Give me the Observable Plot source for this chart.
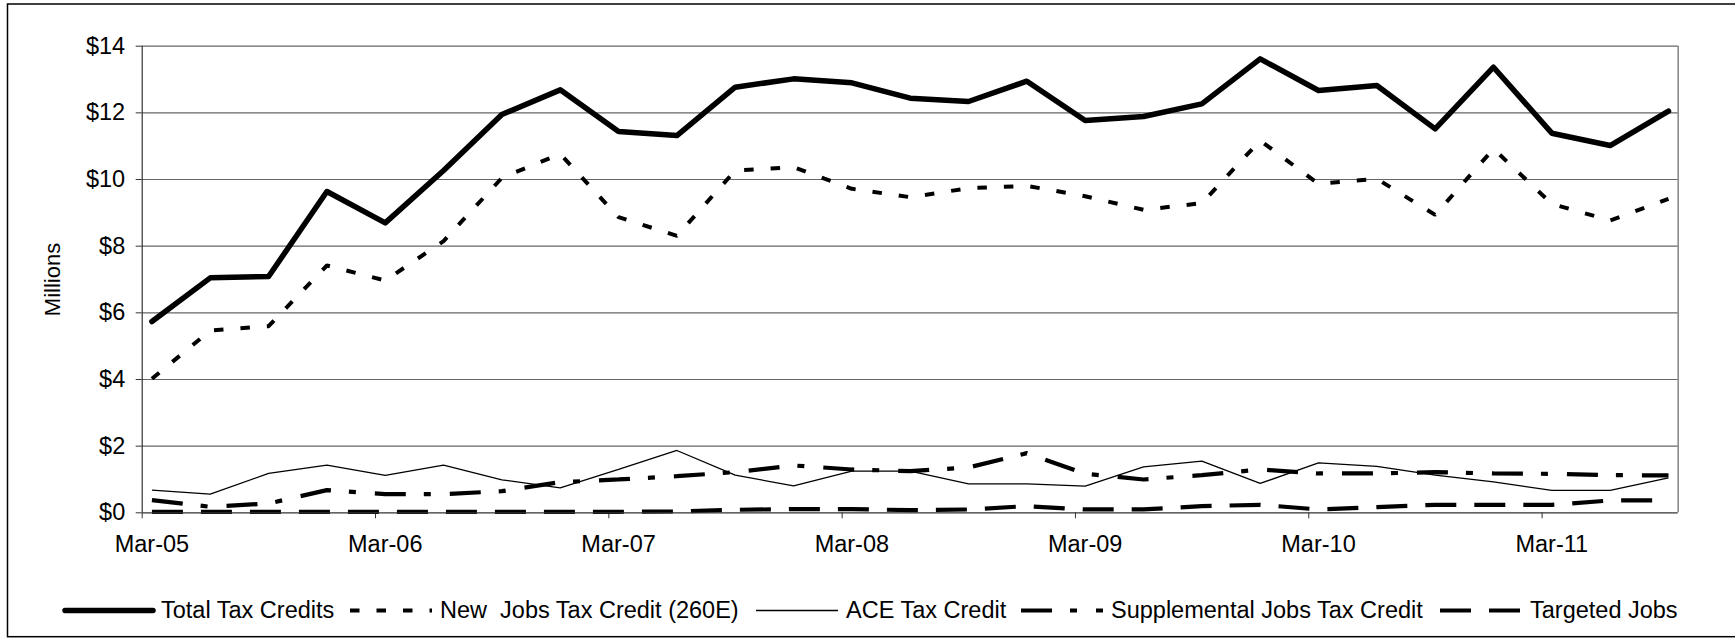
<!DOCTYPE html>
<html>
<head>
<meta charset="utf-8">
<script src="https://cdn.jsdelivr.net/npm/d3@7"></script>
<script src="https://cdn.jsdelivr.net/npm/@observablehq/plot@0.6"></script>
<style>
  html, body { margin: 0; padding: 0; background: #fff; }
  #wrap { position: relative; width: 1735px; height: 640px; overflow: hidden; font-family: "Liberation Sans", Arial, sans-serif; }
  #wrap svg { display: block; }
  #plot { position: absolute; left: 0; top: 0; }
  #legend { position: absolute; left: 0; top: 560px; }
  #frame { position: absolute; left: 0; top: 0; pointer-events: none; }
</style>
</head>
<body>
<div id="wrap">
  <div id="plot"></div>
  <div id="legend"></div>
  <div id="frame"></div>
</div>
<script>
// ---------------- data ----------------
const quarters = [
  "Mar-05","Jun-05","Sep-05","Dec-05",
  "Mar-06","Jun-06","Sep-06","Dec-06",
  "Mar-07","Jun-07","Sep-07","Dec-07",
  "Mar-08","Jun-08","Sep-08","Dec-08",
  "Mar-09","Jun-09","Sep-09","Dec-09",
  "Mar-10","Jun-10","Sep-10","Dec-10",
  "Mar-11","Jun-11","Sep-11"
];
const totalTaxCredits = [5.74, 7.05, 7.09, 9.64, 8.70, 10.27, 11.95, 12.69, 11.44, 11.32, 12.77, 13.02, 12.90, 12.44, 12.34, 12.95, 11.77, 11.89, 12.27, 13.62, 12.67, 12.82, 11.52, 13.37, 11.39, 11.02, 12.05];
const newJobsCredit = [4.02, 5.47, 5.60, 7.42, 6.97, 8.15, 10.05, 10.77, 8.87, 8.31, 10.27, 10.37, 9.72, 9.47, 9.74, 9.81, 9.50, 9.09, 9.29, 11.17, 9.87, 10.02, 8.94, 10.92, 9.27, 8.77, 9.42];
const aceCredit = [0.68, 0.56, 1.18, 1.43, 1.12, 1.43, 0.99, 0.75, 1.30, 1.87, 1.13, 0.81, 1.25, 1.25, 0.87, 0.87, 0.80, 1.38, 1.55, 0.88, 1.50, 1.39, 1.13, 0.93, 0.67, 0.67, 1.05];
const supplementalCredit = [0.38, 0.18, 0.28, 0.68, 0.56, 0.56, 0.65, 0.92, 1.00, 1.10, 1.22, 1.42, 1.30, 1.25, 1.36, 1.79, 1.17, 1.00, 1.13, 1.30, 1.18, 1.18, 1.22, 1.18, 1.17, 1.13, 1.12];
const targetedJobs = [0.03, 0.03, 0.03, 0.03, 0.03, 0.03, 0.03, 0.03, 0.03, 0.04, 0.09, 0.11, 0.11, 0.08, 0.10, 0.20, 0.10, 0.10, 0.20, 0.24, 0.10, 0.17, 0.24, 0.24, 0.24, 0.37, 0.37];

const seriesNames = ["Total Tax Credits", "New  Jobs Tax Credit (260E)", "ACE Tax Credit", "Supplemental Jobs Tax Credit", "Targeted Jobs"];
const yTicks = [0, 2, 4, 6, 8, 10, 12, 14];
const xTickLabels = ["Mar-05","Mar-06","Mar-07","Mar-08","Mar-09","Mar-10","Mar-11"];
const yAxisLabel = "Millions";

// ---------------- helpers ----------------
const monthNames = ["Jan","Feb","Mar","Apr","May","Jun","Jul","Aug","Sep","Oct","Nov","Dec"];
const base = (() => { const [m, y] = quarters[0].split("-"); return (2000 + +y) * 12 + monthNames.indexOf(m); })();
function monthPos(label) { const [m, y] = label.split("-"); return (2000 + +y) * 12 + monthNames.indexOf(m) - base; }
const xMax = monthPos(quarters[quarters.length - 1]) + 1;

const styles = [
  {values: totalTaxCredits, strokeWidth: 5.5, dash: null, cap: "round", sample: 88, legendX: 65},
  {values: newJobsCredit, strokeWidth: 4, dash: "9.5,17", cap: "butt", sample: 82, legendX: 350},
  {values: aceCredit, strokeWidth: 1.3, dash: null, cap: "butt", sample: 82, legendX: 756},
  {values: supplementalCredit, strokeWidth: 4.2, dash: "31,18,7,19", cap: "butt", sample: 82, legendX: 1021},
  {values: targetedJobs, strokeWidth: 4.2, dash: "31,18", cap: "butt", sample: 82, legendX: 1440}
];

const rows = [];
seriesNames.forEach((name, s) => {
  quarters.forEach((q, i) => rows.push({series: name, quarter: q, x: monthPos(q) + 0.5, value: styles[s].values[i]}));
});

const yearTickPos = xTickLabels.map(monthPos);
const yearLabelPos = xTickLabels.map(l => monthPos(l) + 0.5);
const labelAt = new Map(yearLabelPos.map((p, i) => [p, xTickLabels[i]]));

const FONT = 23.5;
const lineMarks = seriesNames.map((name, s) => Plot.line(rows.filter(r => r.series === name), {
  x: "x", y: "value", stroke: "#000", strokeWidth: styles[s].strokeWidth,
  strokeDasharray: styles[s].dash, strokeLinecap: styles[s].cap, strokeLinejoin: s === 0 ? "round" : "miter"
}));

const chart = Plot.plot({
  width: 1735, height: 560,
  marginLeft: 141.7, marginRight: 57.3, marginTop: 45.7, marginBottom: 47.7,
  style: {fontFamily: "'Liberation Sans', Arial, sans-serif", fontSize: FONT + "px", color: "#000", background: "transparent", overflow: "visible"},
  x: {domain: [0, xMax], axis: null},
  y: {domain: [0, 14], axis: null},
  marks: [
    Plot.ruleY(yTicks.slice(1), {stroke: "#666", strokeWidth: 1.2}),
    Plot.ruleX([xMax], {stroke: "#8a8a8a", strokeWidth: 1.6}),
    Plot.axisY(yTicks, {label: null, tickSize: 6, tickPadding: 11, tickFormat: d => "$" + d, stroke: "#333", fontSize: FONT, fill: "#000"}),
    Plot.axisX(yearTickPos, {label: null, tickSize: 6, tickFormat: () => "", stroke: "#333"}),
    Plot.axisX(yearLabelPos, {label: null, tickSize: 0, tickPadding: 23, tickFormat: d => labelAt.get(d), fontSize: FONT, fill: "#000"}),
    Plot.text([yAxisLabel], {frameAnchor: "left", textAnchor: "middle", rotate: -90, dx: -89.3, text: d => d, fontSize: FONT - 1.5, fill: "#000"}),
    ...lineMarks,
    Plot.ruleX([0], {stroke: "#333", strokeWidth: 1.2}),
    Plot.ruleY([0], {stroke: "#333", strokeWidth: 1.2})
  ]
});
document.getElementById("plot").appendChild(chart);

// ---------------- legend ----------------
const leg = d3.select("#legend").append("svg").attr("width", 1735).attr("height", 80)
  .style("font-family", "'Liberation Sans', Arial, sans-serif").style("font-size", FONT + "px");
const g = leg.append("g");
const gapSample = 8, lineY = 50.5, textY = 58;
seriesNames.forEach((name, s) => {
  const st = styles[s];
  const cx = st.legendX;
  g.append("line").attr("x1", cx).attr("x2", cx + st.sample).attr("y1", lineY).attr("y2", lineY)
    .attr("stroke", "#000").attr("stroke-width", st.strokeWidth)
    .attr("stroke-dasharray", st.dash).attr("stroke-linecap", st.cap);
  g.append("text").attr("x", cx + st.sample + gapSample).attr("y", textY)
    .attr("fill", "#000").style("white-space", "pre").text(name);
});

// ---------------- outer frame ----------------
d3.select("#frame").append("svg").attr("width", 1735).attr("height", 640)
  .append("rect").attr("x", 7.5).attr("y", 4).attr("width", 1740).attr("height", 632.7)
  .attr("fill", "none").attr("stroke", "#000").attr("stroke-width", 1.5);
</script>
</body>
</html>
